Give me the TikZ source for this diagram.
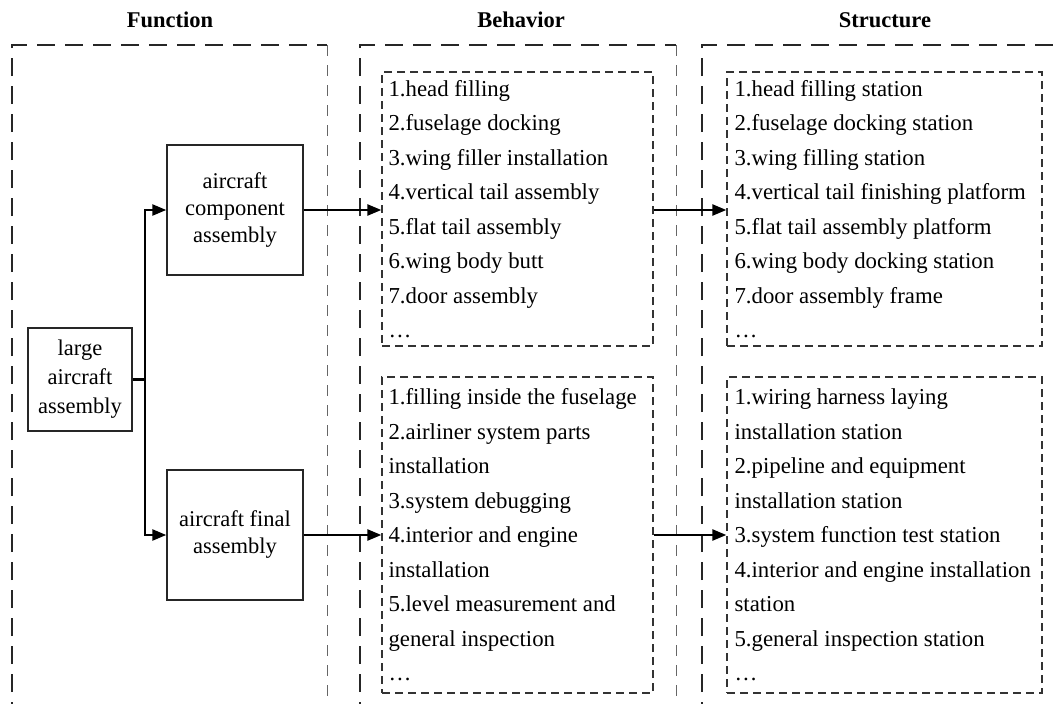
\documentclass[tikz,border=0pt]{standalone}
\usepackage{fontspec}
\setmainfont{Liberation Serif}
\usetikzlibrary{arrows.meta}
\begin{document}
\begin{tikzpicture}[x=1pt,y=-1pt,
  outerline/.style={line width=1.6pt, dash pattern=on 18pt off 10pt, black!85},
  outerright/.style={line width=0.9pt, dash pattern=on 11pt off 9pt, black!60},
  innerbox/.style={draw=black!80, line width=1.3pt, dash pattern=on 8pt off 5pt, inner sep=0pt},
  listtext/.style={align=left, inner sep=0pt, anchor=west, font=\fontsize{22.8}{34.5}\selectfont},
  funcbox/.style={draw=black!85, line width=1.4pt, align=center, inner sep=0pt},
  hdr/.style={font=\fontsize{22.5}{27}\selectfont\bfseries},
  arr/.style={line width=2.4pt, -{Triangle[length=14pt,width=11pt]}},
  conn/.style={line width=2.4pt}
]
\useasboundingbox (0,0) rectangle (1061,704);
\clip (0,0) rectangle (1061,704);

% headers
\node[hdr] (hf) at (170,20) {Function};
\node[hdr] (hb) at (521,20) {Behavior};
\node[hdr] (hs) at (885,20) {Structure};

% outer frames
\draw[outerline] (12,720) -- (12,45) -- (327,45);
\draw[outerright] (327,45) -- (327,720);
\draw[outerline] (360,720) -- (360,45) -- (676,45);
\draw[outerright] (676,45) -- (676,720);
\draw[outerline] (702,720) -- (702,45) -- (1075,45);

% function boxes
\node[funcbox, minimum width=104pt, minimum height=103pt, font=\fontsize{22.5}{29}\selectfont] (L) at (80,379.5) {large\\aircraft\\assembly};
\node[funcbox, minimum width=136pt, minimum height=130pt, font=\fontsize{22.5}{27}\selectfont] (C) at (235,210) {aircraft\\component\\assembly};
\node[funcbox, minimum width=136pt, minimum height=130pt, font=\fontsize{22.5}{27}\selectfont] (F) at (235,535) {aircraft final\\assembly};

% behavior boxes
\node[innerbox, minimum width=271pt, minimum height=274pt] (B1) at (517.5,209) {};
\node[listtext] (B1t) at ([xshift=7pt]B1.west) {1.head filling\\2.fuselage docking\\3.wing filler installation\\4.vertical tail assembly\\5.flat tail assembly\\6.wing body butt\\7.door assembly\\…};
\node[innerbox, minimum width=271pt, minimum height=316pt] (B2) at (517.5,535) {};
\node[listtext] (B2t) at ([xshift=7pt]B2.west) {1.filling inside the fuselage\\2.airliner system parts\\installation\\3.system debugging\\4.interior and engine\\installation\\5.level measurement and\\general inspection\\…};

% structure boxes
\node[innerbox, minimum width=315pt, minimum height=274pt] (S1) at (884.5,209) {};
\node[listtext] (S1t) at ([xshift=8pt]S1.west) {1.head filling station\\2.fuselage docking station\\3.wing filling station\\4.vertical tail finishing platform\\5.flat tail assembly platform\\6.wing body docking station\\7.door assembly frame\\…};
\node[innerbox, minimum width=315pt, minimum height=316pt] (S2) at (884.5,535) {};
\node[listtext] (S2t) at ([xshift=8pt]S2.west) {1.wiring harness laying\\installation station\\2.pipeline and equipment\\installation station\\3.system function test station\\4.interior and engine installation\\station\\5.general inspection station\\…};

% connectors
\draw[conn] (L.east) -- ++(12pt,0) coordinate (j);
\draw[arr] (j) |- (C.west);
\draw[arr] (j) |- (F.west);
\draw[arr] (C.east) -- (C.east -| B1.west);
\draw[arr] (F.east) -- (F.east -| B2.west);
\draw[arr] (C.east -| B1.east) -- (C.east -| S1.west);
\draw[arr] (F.east -| B2.east) -- (F.east -| S2.west);
\end{tikzpicture}
\end{document}
